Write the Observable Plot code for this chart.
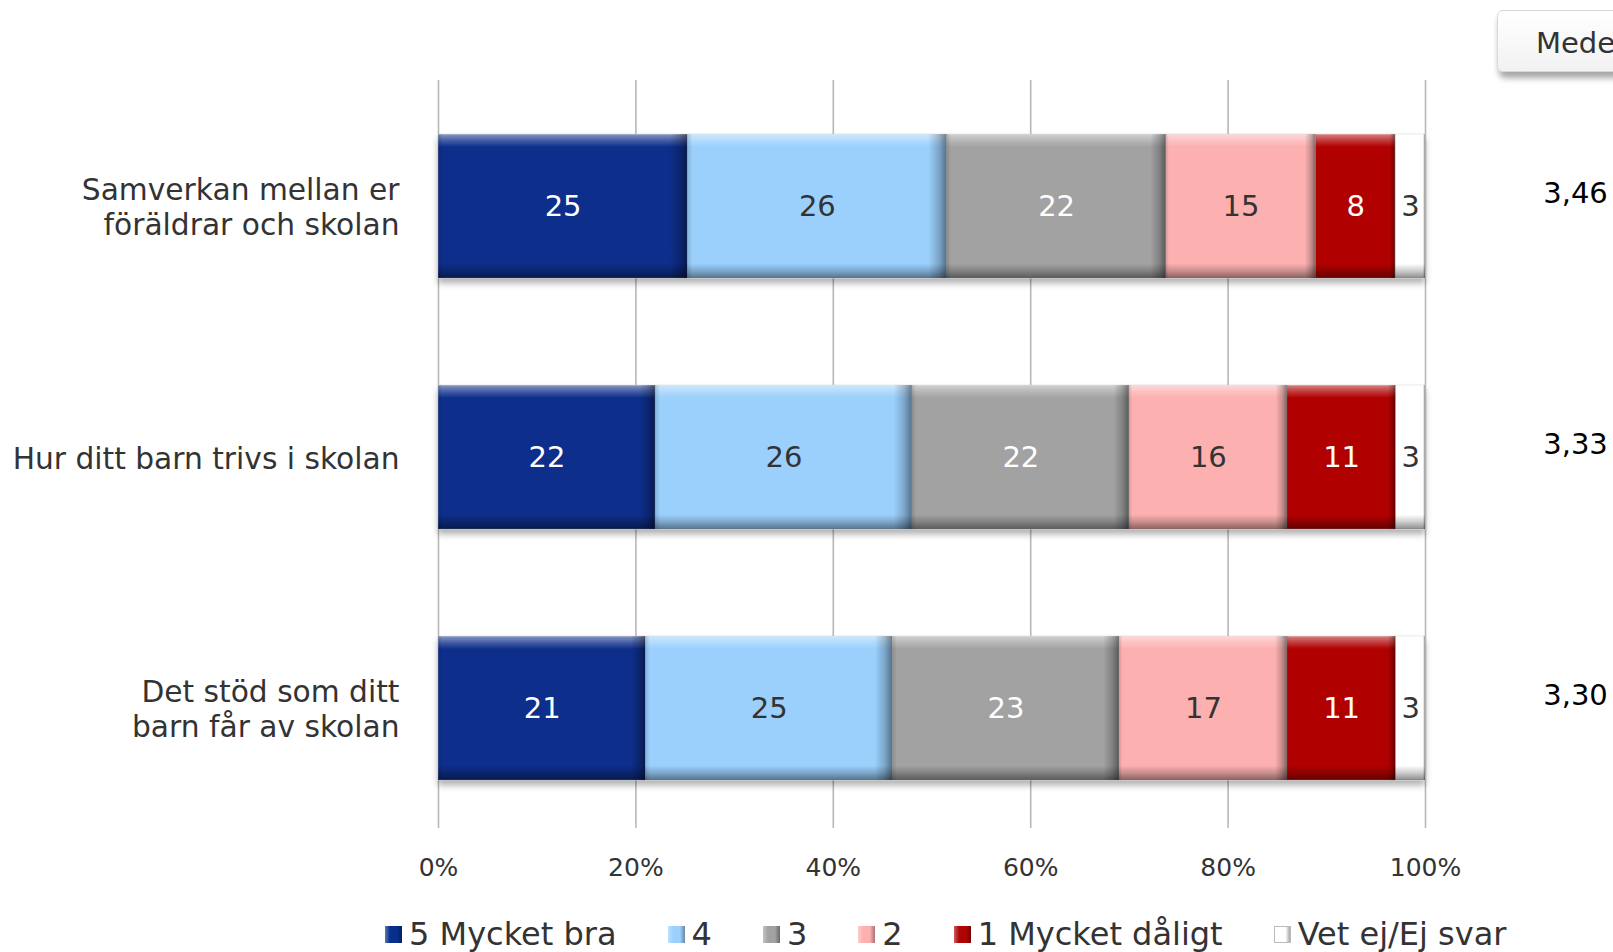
<!DOCTYPE html>
<html>
<head>
<meta charset="utf-8">
<script src="https://cdn.jsdelivr.net/npm/d3@7"></script>
<script src="https://cdn.jsdelivr.net/npm/@observablehq/plot@0.6"></script>
<style>
  html, body { margin: 0; padding: 0; background: #fff; overflow: hidden; width: 1613px; height: 952px; }
  body { font-family: "DejaVu Sans", Verdana, sans-serif; position: relative; }
  #chart { position: absolute; left: 0; top: 0; }
  #meanbox { position: absolute; left: 1497px; top: 10px; width: 200px; height: 62px;
    border: 1px solid #d8d8d8; border-radius: 6px; background: linear-gradient(#ffffff, #f2f2f2);
    box-shadow: 2px 6px 6px rgba(0,0,0,0.35); font-size: 29px; color: #333; line-height: 64px;
    padding-left: 38px; box-sizing: border-box; white-space: nowrap; }
  #legend { position: absolute; left: 385px; top: 915px; display: flex; gap: 51px; font-size: 32px;
    color: #333; line-height: 38px; white-space: nowrap; }
  .item { display: flex; align-items: center; }
  .sw { width: 17px; height: 17px; margin-right: 7px; position: relative; }
  .sw::after { content: ""; position: absolute; inset: 0;
    background: linear-gradient(90deg, rgba(255,255,255,0.35), rgba(255,255,255,0) 30%, rgba(0,0,0,0) 70%, rgba(0,0,0,0.35)); }
</style>
</head>
<body>
<div id="chart"></div>
<div id="meanbox">Medelvärde</div>
<div id="legend"></div>
<script>
const questions = [
  "Samverkan mellan er\nföräldrar och skolan",
  "Hur ditt barn trivs i skolan",
  "Det stöd som ditt\nbarn får av skolan"
];
const categories = ["5 Mycket bra", "4", "3", "2", "1 Mycket dåligt", "Vet ej/Ej svar"];
const colors = ["#072F8B", "#9BD0FD", "#A2A2A2", "#FCB0B0", "#B10505", "#FFFFFF"];
const values = [
  [25, 26, 22, 15, 8, 3],
  [22, 26, 22, 16, 11, 3],
  [21, 25, 23, 17, 11, 3]
];
const means = ["3,46", "3,33", "3,30"];
const xTicks = [0, 0.2, 0.4, 0.6, 0.8, 1];
const darkCats = ["5 Mycket bra", "3", "1 Mycket dåligt"];

const data = [];
questions.forEach((q, i) => categories.forEach((c, j) => data.push({q, cat: c, value: values[i][j]})));
const meanData = questions.map((q, i) => ({q, mean: means[i]}));

const stackOpts = {x: "value", y: "q", z: "cat", order: categories, offset: "normalize"};

const plot = Plot.plot({
  width: 1613,
  height: 905,
  marginLeft: 438,
  marginRight: 188,
  marginTop: 80,
  marginBottom: 77,
  style: {fontFamily: "DejaVu Sans, Verdana, sans-serif", background: "#fff"},
  x: {domain: [0, 1], axis: null},
  y: {domain: questions, paddingInner: 0.4263, paddingOuter: 0.2032, align: 0.53, round: false, axis: null},
  color: {domain: categories, range: colors},
  marks: [
    Plot.gridX(xTicks, {stroke: "#b8b8b8", strokeOpacity: 1, strokeWidth: 1.6}),
    Plot.axisX({ticks: xTicks, tickFormat: d3.format(".0%"), tickSize: 0, tickPadding: 30, fontSize: 25, fill: "#333", label: null}),
    Plot.barX(data, Plot.stackX({...stackOpts, fill: "cat", stroke: "#c8c8c8", strokeWidth: 0.5})),
    Plot.barX(data, Plot.stackX({...stackOpts, fill: "url(#vgrad)"})),
    Plot.barX(data, Plot.stackX({...stackOpts, fill: "url(#hgrad)"})),
    Plot.text(data, Plot.stackX({...stackOpts, text: d => darkCats.includes(d.cat) ? String(d.value) : "", fill: "#fff", fontSize: 29})),
    Plot.text(data, Plot.stackX({...stackOpts, text: d => darkCats.includes(d.cat) ? "" : String(d.value), fill: "#333", fontSize: 29})),
    Plot.text(questions, {y: d => d, text: d => d, frameAnchor: "left", dx: -39, textAnchor: "end", lineHeight: 1.17, fontSize: 29.7, fill: "#333"}),
    Plot.text(meanData, {y: "q", text: "mean", frameAnchor: "right", dx: 150, dy: -13, textAnchor: "middle", fontSize: 29, fill: "#000"})
  ]
});

const svg = d3.select(plot);
const defs = svg.insert("defs", ":first-child");
const vg = defs.append("linearGradient").attr("id", "vgrad").attr("x1", 0).attr("y1", 0).attr("x2", 0).attr("y2", 1);
[[0, "#fff", 0.5], [0.05, "#fff", 0.2], [0.09, "#fff", 0], [0.9, "#000", 0], [0.95, "#000", 0.2], [1, "#000", 0.45]]
  .forEach(([o, c, a]) => vg.append("stop").attr("offset", o).attr("stop-color", c).attr("stop-opacity", a));
const hg = defs.append("linearGradient").attr("id", "hgrad").attr("x1", 0).attr("y1", 0).attr("x2", 1).attr("y2", 0);
[[0, "#000", 0.15], [0.02, "#000", 0], [0.93, "#000", 0], [0.97, "#000", 0.2], [1, "#000", 0.45]]
  .forEach(([o, c, a]) => hg.append("stop").attr("offset", o).attr("stop-color", c).attr("stop-opacity", a));
const f = defs.append("filter").attr("id", "shadow").attr("x", "-5%").attr("y", "-10%").attr("width", "110%").attr("height", "130%");
f.append("feDropShadow").attr("dx", 0).attr("dy", 5).attr("stdDeviation", 3).attr("flood-color", "#000").attr("flood-opacity", 0.3);
svg.select("g[aria-label='bar']").attr("filter", "url(#shadow)");

document.getElementById("chart").appendChild(plot);

const legend = d3.select("#legend");
categories.forEach((c, i) => {
  const it = legend.append("div").attr("class", "item");
  it.append("div").attr("class", "sw").style("background", colors[i]).style("border", i === 5 ? "1px solid #bbb" : "none").style("box-sizing", "border-box");
  it.append("span").text(c);
});
</script>
</body>
</html>
